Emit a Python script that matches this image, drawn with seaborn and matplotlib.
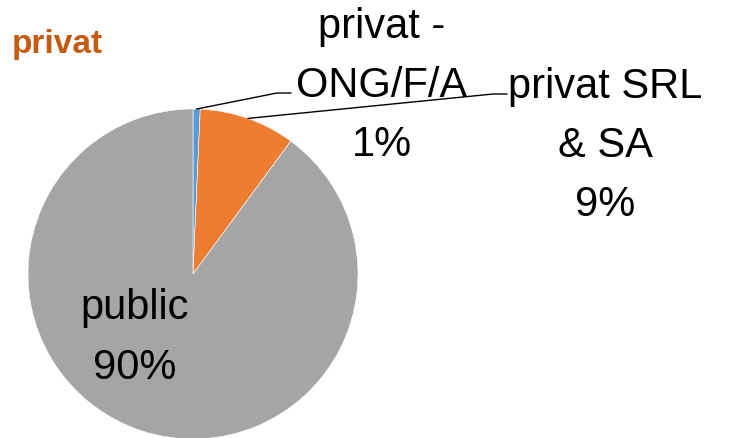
import numpy as np
import matplotlib
matplotlib.use("Agg")
import matplotlib.pyplot as plt
import seaborn as sns

# Chart data
categories = ["privat -\nONG/F/A", "privat SRL\n& SA", "public"]
shares = [0.7, 9.4, 89.9]
colors = ["#5B9BD5", "#ED7D31", "#A5A5A5"]

sns.set_style("white")
plt.rcParams["font.family"] = ["Liberation Sans", "DejaVu Sans"]

W, H = 731, 439
fig = plt.figure(figsize=(W / 100, H / 100), dpi=100)

# pie centre (193, 275) px from top-left, radius 165 px
cx, cy, r = 193, 275, 165
ax = fig.add_axes([(cx - r) / W, (H - cy - r) / H, 2 * r / W, 2 * r / H])

wedges, _ = ax.pie(shares, colors=colors, startangle=90, counterclock=False,
                   wedgeprops=dict(edgecolor="white", linewidth=0.4))
ax.set_xlim(-1, 1)
ax.set_ylim(-1, 1)
ax.set_aspect("equal")


def px(x, y):
    # pixel position -> data coords of the pie axes
    return (x - cx) / r, (cy - y) / r


labels = [f"{c}\n{v:.0f}%" for c, v in zip(categories, shares)]
label_pos = [px(382, 86), px(605, 146), px(135, 338)]
elbows = [(px(277, 94), px(291, 94)), (px(493, 95), px(507, 95)), None]

for w, lab, pos, elb in zip(wedges, labels, label_pos, elbows):
    ax.text(pos[0], pos[1], lab, ha="center", va="center", fontsize=30,
            linespacing=1.62, color="black", clip_on=False)
    if elb is not None:
        ang = np.deg2rad((w.theta1 + w.theta2) / 2)
        start = (np.cos(ang), np.sin(ang))
        xs = [start[0], elb[0][0], elb[1][0]]
        ys = [start[1], elb[0][1], elb[1][1]]
        ax.plot(xs, ys, color="black", lw=1.0, clip_on=False)

fig.text(12 / W, 1 - 44 / H, "privat", color="#C55A11", fontsize=24,
         fontweight="bold", ha="left", va="center")

fig.savefig("out.png", dpi=100)
